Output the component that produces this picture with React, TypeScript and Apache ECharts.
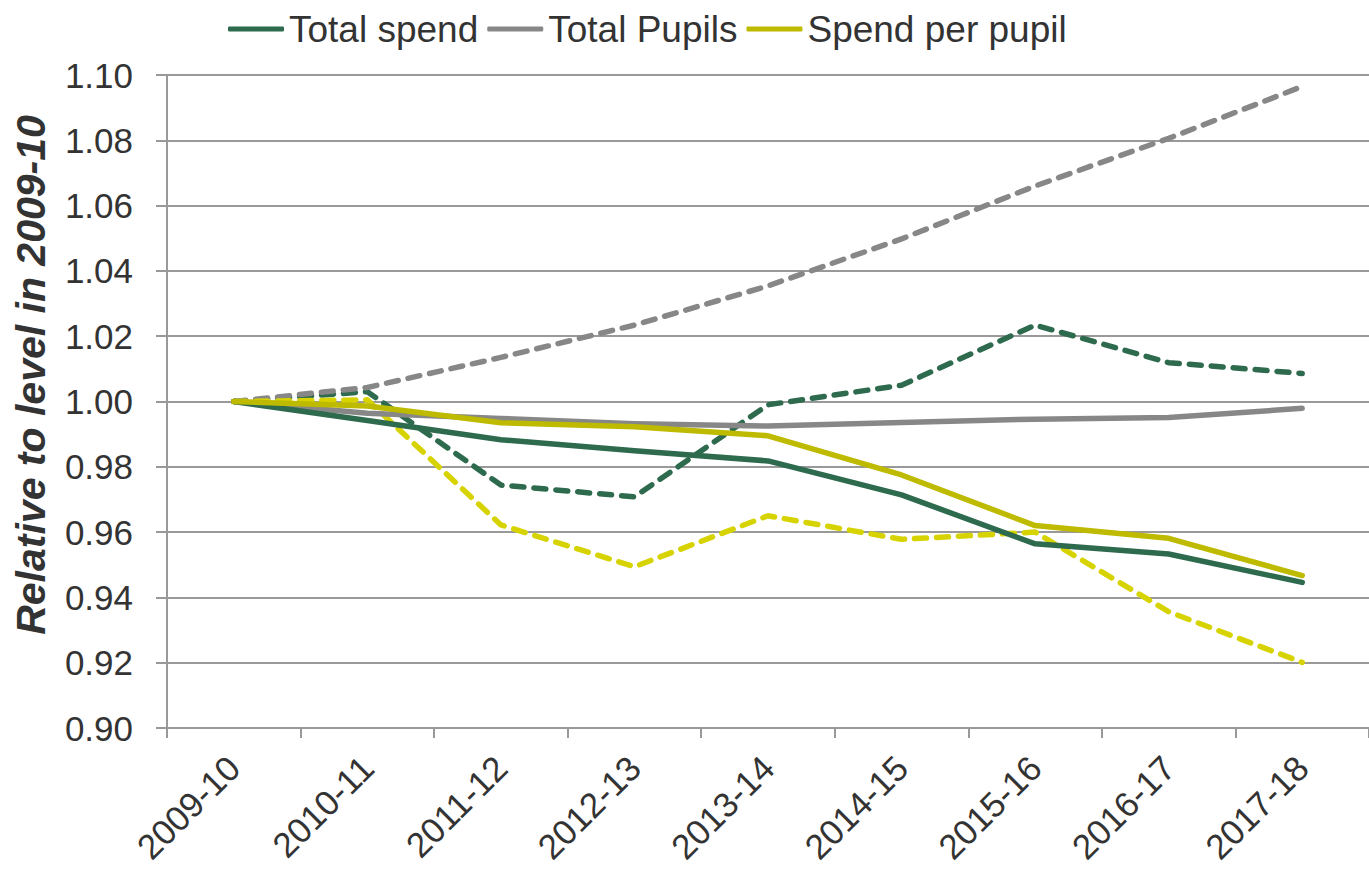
import React, { useEffect, useRef } from "react";
import * as echarts from "echarts";

const categories = ["2009-10", "2010-11", "2011-12", "2012-13", "2013-14", "2014-15", "2015-16", "2016-17", "2017-18"];
const totalSpend = [1.0, 0.9942, 0.9883, 0.9849, 0.9818, 0.9714, 0.9564, 0.9533, 0.9446];
const totalPupils = [1.0, 0.9964, 0.9948, 0.9932, 0.9925, 0.9936, 0.9946, 0.9951, 0.9979];
const spendPerPupil = [1.0, 0.9986, 0.9935, 0.9923, 0.9895, 0.9775, 0.962, 0.9581, 0.9467];
const totalSpendDashed = [1.0, 1.003, 0.9744, 0.9708, 0.999, 1.005, 1.0234, 1.0119, 1.0086];
const totalPupilsDashed = [1.0, 1.0043, 1.0135, 1.0234, 1.0354, 1.0498, 1.066, 1.0806, 1.0965];
const spendPerPupilDashed = [1.0, 1.0005, 0.9622, 0.9494, 0.965, 0.9578, 0.96, 0.9356, 0.9201];
const legendNames = ["Total spend", "Total Pupils", "Spend per pupil"];
const yAxisTitle = "Relative to level in 2009-10";

const GREEN = "#2E6A4D";
const GRAY = "#878787";
const OLIVE = "#BEBA00";
const YELLOW = "#D6D300";
const FONT = "'Liberation Sans', Arial, sans-serif";

export default function App() {
  const ref = useRef<HTMLDivElement>(null);
  useEffect(() => {
    if (!ref.current) return;
    const chart = echarts.init(ref.current, null, { renderer: "svg" });
    const solid = (name: string, data: number[], color: string) => ({
      name,
      type: "line",
      data,
      symbol: "none",
      lineStyle: { color, width: 5.5, cap: "round", join: "round" },
      itemStyle: { color },
      z: 3,
    });
    const dashed = (name: string, data: number[], color: string) => ({
      name,
      type: "line",
      data,
      symbol: "none",
      lineStyle: { color, width: 5.5, type: [12, 10], cap: "round", join: "round" },
      itemStyle: { color },
      z: 2,
    });
    chart.setOption({
      animation: false,
      textStyle: { fontFamily: FONT },
      grid: { left: 167, right: -16, top: 75, bottom: 144, containLabel: false },
      legend: {
        data: legendNames,
        left: 223,
        top: 4,
        icon: "roundRect",
        itemWidth: 56,
        itemHeight: 5,
        itemGap: 9,
        textStyle: { fontSize: 37, color: "#333333", fontFamily: FONT, lineHeight: 40 },
      },
      xAxis: {
        type: "category",
        data: categories,
        boundaryGap: true,
        axisLine: { show: true, lineStyle: { color: "#999999", width: 2 } },
        axisTick: { show: true, length: 10, lineStyle: { color: "#999999", width: 2 } },
        axisLabel: { rotate: 45, margin: 34, fontSize: 35, color: "#333333", fontFamily: FONT },
        splitLine: { show: false },
      },
      yAxis: {
        type: "value",
        min: 0.9,
        max: 1.1,
        interval: 0.02,
        axisLine: { show: true, lineStyle: { color: "#999999", width: 2 } },
        axisTick: { show: true, length: 11, lineStyle: { color: "#999999", width: 2 } },
        axisLabel: {
          margin: 34,
          fontSize: 35,
          color: "#333333",
          fontFamily: FONT,
          formatter: (v: number) => v.toFixed(2),
        },
        splitLine: { show: true, lineStyle: { color: "#999999", width: 2 } },
      },
      graphic: [
        {
          type: "text",
          x: 31,
          y: 375,
          rotation: Math.PI / 2,
          style: {
            text: yAxisTitle,
            fontSize: 41,
            fontWeight: "bold",
            fontStyle: "italic",
            fontFamily: FONT,
            fill: "#333333",
            textAlign: "center",
            textVerticalAlign: "middle",
          },
        },
      ],
      series: [
        dashed("Total spend (dashed)", totalSpendDashed, GREEN),
        dashed("Total Pupils (dashed)", totalPupilsDashed, GRAY),
        dashed("Spend per pupil (dashed)", spendPerPupilDashed, YELLOW),
        solid("Total Pupils", totalPupils, GRAY),
        solid("Total spend", totalSpend, GREEN),
        solid("Spend per pupil", spendPerPupil, OLIVE),
      ],
    });
    return () => chart.dispose();
  }, []);
  return (
    <div
      ref={ref}
      style={{ position: "absolute", left: 0, top: 0, width: 1369, height: 872, background: "#ffffff", overflow: "hidden" }}
    />
  );
}
